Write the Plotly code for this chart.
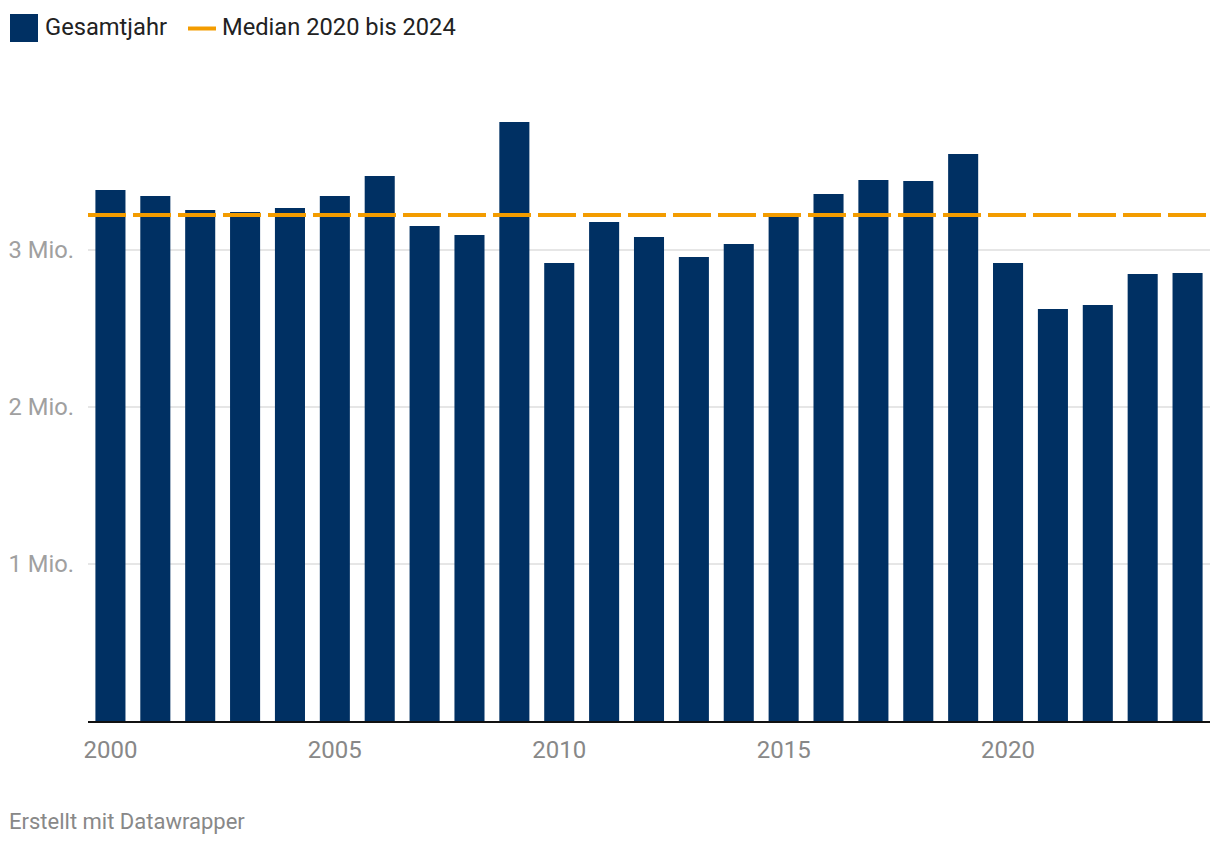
import plotly.graph_objects as go

years = list(range(2000, 2025))
values_mio = [3.382, 3.344, 3.255, 3.242, 3.268, 3.344, 3.471, 3.153, 3.096, 3.815,
              2.917, 3.178, 3.083, 2.955, 3.038, 3.212, 3.357, 3.446, 3.439, 3.611,
              2.917, 2.624, 2.650, 2.847, 2.854]
median_value = 3.223
median_span = [1999.5, 2024.5]
y_tickvals = [1, 2, 3]
y_ticktext = ["1 Mio.", "2 Mio.", "3 Mio."]
x_tickvals = [2000, 2005, 2010, 2015, 2020]
legend_labels = ["Gesamtjahr", "Median 2020 bis 2024"]

BAR = "#003063"
ORANGE = "#f39c00"
FONT = "Roboto"

OFF = 8  # page body margin
W, H = 1220 - OFF, 846 - OFF
L, R, T, B = 88 - OFF, 10, 93 - OFF, 125
PW, PH = W - L - R, H - T - B


def px(x):
    return (x - OFF - L) / PW


def py(y):
    return (H - B - (y - OFF)) / PH


fig = go.Figure()
fig.add_trace(go.Bar(x=years, y=values_mio, marker=dict(color=BAR, line=dict(width=0)),
                     name=legend_labels[0], showlegend=False))
fig.add_trace(go.Scatter(x=median_span, y=[median_value, median_value], mode="lines",
                         line=dict(color=ORANGE, width=4, dash="38px,7px"),
                         name=legend_labels[1], showlegend=False))

# manual legend
fig.add_shape(type="rect", xref="paper", yref="paper", x0=px(10), x1=px(38), y0=py(42), y1=py(14),
              fillcolor=BAR, line=dict(width=0))
fig.add_shape(type="line", xref="paper", yref="paper", x0=px(188), x1=px(216), y0=py(28.5), y1=py(28.5),
              line=dict(color=ORANGE, width=4))
fig.add_annotation(text=legend_labels[0], xref="paper", yref="paper", x=px(43), y=py(27),
                   xanchor="left", yanchor="middle", showarrow=False,
                   font=dict(family=FONT, size=23.7, color="#222222"))
fig.add_annotation(text=legend_labels[1], xref="paper", yref="paper", x=px(220), y=py(27),
                   xanchor="left", yanchor="middle", showarrow=False,
                   font=dict(family=FONT, size=23.7, color="#222222"))
fig.add_annotation(text="Erstellt mit Datawrapper", xref="paper", yref="paper", x=px(7), y=py(821),
                   xanchor="left", yanchor="middle", showarrow=False,
                   font=dict(family=FONT, size=22, color="#888888"))

fig.update_layout(
    width=W, height=H,
    margin=dict(l=L, r=R, t=T, b=B, autoexpand=False),
    paper_bgcolor="white", plot_bgcolor="white",
    bargap=0.33,
    font=dict(family=FONT),
    showlegend=False,
    xaxis=dict(range=[1999.5, 2024.5], tickvals=x_tickvals, ticks="", showgrid=False,
               showline=True, linecolor="#111111", linewidth=2, zeroline=False, automargin=False,
               tickfont=dict(family=FONT, size=24, color="#888888"), ticklabelstandoff=6),
    yaxis=dict(range=[0, 4], tickvals=y_tickvals, ticktext=y_ticktext, ticks="",
               showgrid=True, gridcolor="#e6e6e6", gridwidth=2, zeroline=False, showline=False,
               automargin=False,
               tickfont=dict(family=FONT, size=23.7, color="#a0a0a0"), ticklabelstandoff=13),
)

fig.write_html("out.html")
